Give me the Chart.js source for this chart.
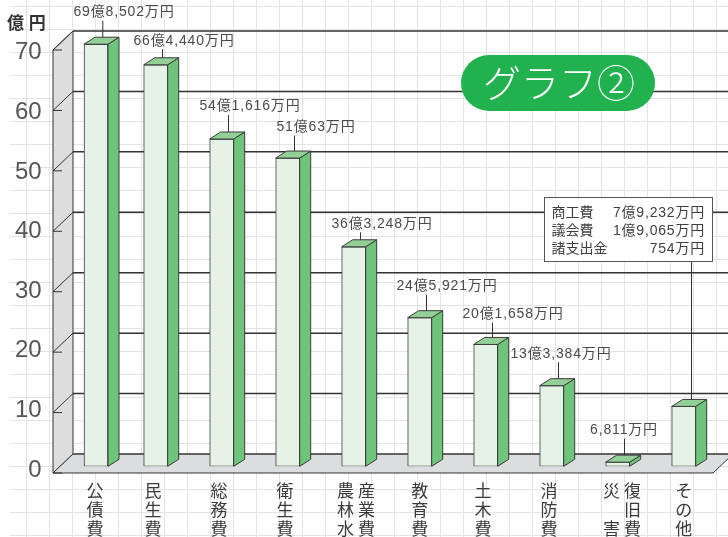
<!DOCTYPE html>
<html lang="ja">
<head>
<meta charset="utf-8">
<title>グラフ②</title>
<script src="https://cdn.jsdelivr.net/npm/chart.js@4/dist/chart.umd.js"></script>
<style>
    html, body { margin: 0; padding: 0; background: #fff; }
    canvas { display: block; }
</style>
</head>
<body>
<canvas id="myChart" width="728" height="537"></canvas>
<script>
// values in 億円
const categories = ['公債費', '民生費', '総務費', '衛生費', '農林水産業費', '教育費', '土木費', '消防費', '災害復旧費', 'その他'];
const values = [69.8502, 66.444, 54.1616, 51.0063, 36.3248, 24.5921, 20.1658, 13.3384, 0.6811, 9.9051];
const valueLabels = ['69億8,502万円', '66億4,440万円', '54億1,616万円', '51億63万円', '36億3,248万円', '24億5,921万円', '20億1,658万円', '13億3,384万円', '6,811万円', null];
const categoryLabels = [
    ['公', '債', '費'], ['民', '生', '費'], ['総', '務', '費'], ['衛', '生', '費'],
    ['農 産', '林 業', '水 費'], ['教', '育', '費'], ['土', '木', '費'], ['消', '防', '費'],
    ['災 復', '　 旧', '害 費'], ['そ', 'の', '他']
];
const yTickValues = [0, 10, 20, 30, 40, 50, 60, 70];
const otherNames = ['商工費', '議会費', '諸支出金'];
const otherAmounts = ['7億9,232万円', '1億9,065万円', '754万円'];

// hand placement, the original is not evenly spaced
const barNudge = [6.3, 0, 0, 0, 0, 0, 0, 0, 0, 0];
const tickNudge = [5.3, -2.7, -2.7, -2.7, 2.3, 0, -2.7, -2.7, 4.3, 0];
const labelDx = [28, 28.3, 28.3, 28.3, 28.3, 27.3, 27.3, 9.3, 6.3, 0];
const labelRise = [25, 17, 25.5, 24, 16, 24.5, 23.5, 25, 25, 0];

const latinFont = '"Liberation Sans", "Noto Sans CJK JP", sans-serif';
const ink = '#3a3a3a';
const depthX = 11;
const depthY = 7;

function poly(ctx, points, fill, stroke, width) {
    ctx.beginPath();
    points.forEach((p, i) => i ? ctx.lineTo(p[0], p[1]) : ctx.moveTo(p[0], p[1]));
    ctx.closePath();
    if (fill) {
        ctx.fillStyle = fill;
        ctx.fill();
    }
    if (stroke) {
        ctx.strokeStyle = stroke;
        ctx.lineWidth = width || 1;
        ctx.stroke();
    }
}

function line(ctx, x1, y1, x2, y2, color, width) {
    ctx.beginPath();
    ctx.moveTo(x1, y1);
    ctx.lineTo(x2, y2);
    ctx.strokeStyle = color;
    ctx.lineWidth = width;
    ctx.stroke();
}

const boxPlugin = {
    id: 'box3d',
    beforeDraw(chart) {
        // graph paper
        const ctx = chart.ctx;
        for (let x = 26; x < chart.width; x += 23) line(ctx, x + 0.5, 0, x + 0.5, chart.height, '#e4e4e4', 1);
        for (let y = 6; y < chart.height; y += 23) line(ctx, 10, y + 0.5, chart.width, y + 0.5, '#e4e4e4', 1);
    },
    afterDatasetsUpdate(chart) {
        chart.getDatasetMeta(0).data.forEach((el, i) => { el.x += barNudge[i]; });
    },
    beforeDatasetsDraw(chart) {
        const ctx = chart.ctx;
        const yScale = chart.scales.y;
        const area = chart.chartArea;
        const left = area.left - 3.7;
        const right = area.right - 3.7;
        const backLeft = area.left + 16.3;
        const y0 = yScale.getPixelForValue(0);
        const y70 = yScale.getPixelForValue(70);
        ctx.save();
        poly(ctx, [[left, y70 + 6.7], [backLeft, y70 - 12.3], [backLeft, y0 - 12.3], [left, y0 + 6.7]], '#dcddde', '#333', 1);
        poly(ctx, [[left, y0 + 6.7], [right, y0 + 6.7], [right + 20, y0 - 12.3], [backLeft, y0 - 12.3]], '#dcddde');
        line(ctx, left, y0 + 6.7, right, y0 + 6.7, '#333', 1.2);
        line(ctx, right, y0 + 6.7, right + 20, y0 - 12.3, '#333', 1);
        yTickValues.forEach(v => {
            const y = yScale.getPixelForValue(v);
            line(ctx, backLeft, y - 12.3, chart.width, y - 12.3, '#333', 1.5);
            line(ctx, left, y + 6.7, backLeft, y - 12.3, '#333', 1);
            line(ctx, left, y + 6.7, left + 9, y + 6.7, '#333', 1);
        });
        ctx.restore();
    },
    afterDatasetsDraw(chart) {
        const ctx = chart.ctx;
        ctx.save();
        chart.getDatasetMeta(0).data.forEach((el, i) => {
            const l = el.x - el.width / 2;
            const r = el.x + el.width / 2;
            poly(ctx, [[r, el.y], [r + depthX, el.y - depthY], [r + depthX, el.base - depthY], [r, el.base]], '#6fc47c', '#3a3a3a', 1);
            poly(ctx, [[l, el.y], [l + depthX, el.y - depthY], [r + depthX, el.y - depthY], [r, el.y]], '#93d097', '#3a3a3a', 1);

            const leadX = el.x + 6.8;
            const topY = el.y - depthY;
            if (valueLabels[i]) {
                const labelY = topY - labelRise[i];
                line(ctx, leadX, topY, leadX, labelY + 8.5, '#333', 1);
                ctx.font = '14px ' + latinFont;
                ctx.letterSpacing = '0.85px';
                ctx.fillStyle = '#4a4a4a';
                ctx.textAlign = 'center';
                ctx.textBaseline = 'middle';
                ctx.fillText(valueLabels[i], el.x + labelDx[i], labelY);
                ctx.letterSpacing = '0px';
            } else {
                // その他 goes up to the breakdown box
                line(ctx, leadX + 1, topY, leadX + 1, 262, '#333', 1);
            }
        });

        // breakdown of その他
        ctx.fillStyle = '#fff';
        ctx.fillRect(544.5, 197.5, 168, 64);
        ctx.strokeStyle = '#555';
        ctx.lineWidth = 1;
        ctx.strokeRect(544.5, 197.5, 168, 64);
        ctx.font = '14px ' + latinFont;
        ctx.fillStyle = '#3f3f3f';
        ctx.textBaseline = 'middle';
        otherNames.forEach((name, i) => {
            const y = 213.5 + i * 18;
            ctx.textAlign = 'left';
            ctx.fillText(name, 551.5, y);
            ctx.textAlign = 'right';
            ctx.letterSpacing = '0.8px';
            ctx.fillText(otherAmounts[i], 705, y);
            ctx.letterSpacing = '0px';
        });

        // title pill
        ctx.beginPath();
        ctx.roundRect(461, 55, 194, 56, 28);
        ctx.fillStyle = '#21b14f';
        ctx.fill();
        ctx.font = '300 38px "Noto Sans CJK JP", sans-serif';
        ctx.fillStyle = '#fff';
        ctx.textAlign = 'center';
        ctx.textBaseline = 'middle';
        ctx.fillText('グラフ②', 559, 83);

        // unit
        ctx.font = 'bold 17px "Noto Sans CJK JP", sans-serif';
        ctx.letterSpacing = '0.5px';
        ctx.fillStyle = '#333';
        ctx.textAlign = 'left';
        ctx.fillText('億 円', 7, 23);
        ctx.restore();
    }
};

const ctx = document.getElementById('myChart').getContext('2d');
new Chart(ctx, {
    type: 'bar',
    data: {
        labels: categories,
        datasets: [{
            data: values,
            yAxisID: 'y',
            barThickness: 24,
            backgroundColor: '#e7f2e6',
            borderColor: '#3a3a3a',
            borderWidth: 1,
            borderSkipped: false
        }]
    },
    options: {
        responsive: false,
        animation: false,
        events: [],
        layout: { padding: { top: 43.3, right: 11.3, left: 0, bottom: 0 } },
        plugins: { legend: { display: false }, tooltip: { enabled: false } },
        scales: {
            x: {
                grid: { display: false, drawTicks: false },
                border: { display: false },
                afterFit(scale) {
                    scale.height = 70.7;
                    const proto = Object.getPrototypeOf(scale);
                    scale.getPixelForTick = function (i) {
                        return proto.getPixelForTick.call(this, i) + tickNudge[i];
                    };
                },
                ticks: {
                    autoSkip: false,
                    maxRotation: 0,
                    padding: 15,
                    color: ink,
                    font: { family: '"Noto Sans CJK JP", sans-serif', size: 17, lineHeight: 1.1 },
                    callback: (value, index) => categoryLabels[index]
                }
            },
            y: {
                display: false,
                min: 0,
                max: 70
            },
            // printed scale sits a little tighter than the bars' scale
            yLabels: {
                position: 'left',
                min: -0.39,
                max: 70.58,
                grid: { display: false, drawTicks: false },
                border: { display: false },
                afterBuildTicks(scale) {
                    scale.ticks = yTickValues.map(value => ({ value }));
                },
                afterFit(scale) {
                    scale.width = 56.7;
                },
                ticks: {
                    padding: 15,
                    labelOffset: 6,
                    color: '#555',
                    font: { family: latinFont, size: 24 }
                }
            }
        }
    },
    plugins: [boxPlugin]
});
</script>
</body>
</html>
